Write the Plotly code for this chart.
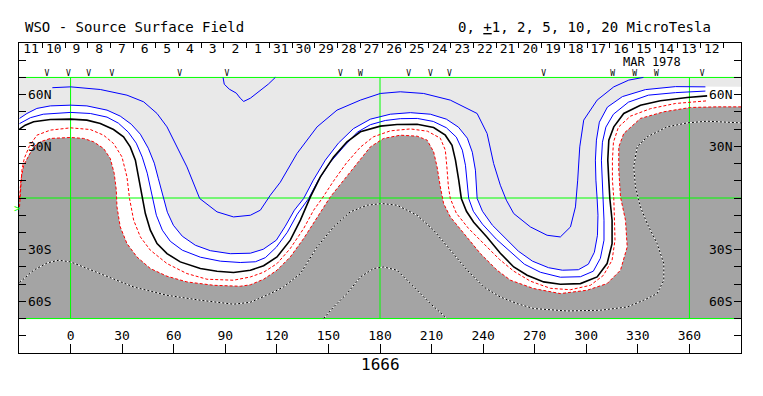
import plotly.graph_objects as go
import pandas as pd

# ---------------- axis definitions ----------------
X_RANGE = [-30, 390]            # Carrington longitude
S_RANGE = [-9 / 7, 9 / 7]       # sine latitude (box incl. header rows)
LON_TICKS = [0, 30, 60, 90, 120, 150, 180, 210, 240, 270, 300, 330, 360]
LAT_TICKS = [k / 7 for k in range(-8, 9)]
LAT_LABEL_POS = [6 / 7, 3 / 7, -3 / 7, -6 / 7]
LAT_LABELS = ["60N", "30N", "30S", "60S"]
ROTATION = "1666"
ROT_PERIOD_DAYS = 27.2753
T_LON360 = "1978-03-13 11:40"   # time when longitude 360 crossed central meridian

DAY_LABELS = [11, 10, 9, 8, 7, 6, 5, 4, 3, 2, 1, 31, 30, 29, 28, 27, 26, 25,
              24, 23, 22, 21, 20, 19, 18, 17, 16, 15, 14, 13, 12]
FIRST_DAY = "1978-04-11"

OBS_LON = [-13.7, -1.3, 10.5, 24.1, 63.4, 91.0, 156.9, 168.6, 196.7, 209.3,
           220.4, 275.2, 315.4, 328.2, 340.8, 367.4]
OBS_MARK = ["V", "V", "V", "V", "V", "V", "V", "W", "V", "V", "V", "V",
            "W", "W", "W", "V"]

# ---------------- contour lines (lon, sine latitude) ----------------
NEUTRAL = [(-29.7, 0.571), (-26.4, 0.604), (-21.5, 0.632), (-11.8, 0.651), (0.0, 0.654),
           (9.5, 0.646), (17.3, 0.618), (25.0, 0.568), (30.8, 0.507), (34.7, 0.424),
           (37.7, 0.314), (39.6, 0.175), (41.5, 0.037), (43.5, -0.129), (46.4, -0.267),
           (50.3, -0.378), (56.1, -0.461), (63.8, -0.530), (75.5, -0.585), (85.2, -0.607),
           (94.8, -0.618), (104.6, -0.599), (112.3, -0.562), (120.1, -0.489), (127.8, -0.350),
           (133.7, -0.184), (139.5, 0.009), (145.3, 0.175), (153.0, 0.341), (160.8, 0.466),
           (168.6, 0.549), (180.2, 0.596), (189.9, 0.610), (201.6, 0.612), (211.2, 0.585),
           (218.0, 0.521), (221.9, 0.438), (223.9, 0.314), (225.8, 0.148), (227.3, -0.004),
           (230.3, -0.110), (234.5, -0.201), (242.3, -0.325), (250.0, -0.458), (257.8, -0.572),
           (265.6, -0.641), (275.2, -0.696), (284.9, -0.715), (296.6, -0.710), (306.3, -0.655),
           (312.1, -0.544), (315.0, -0.378), (315.0, -0.184), (313.7, -0.004), (313.1, 0.148),
           (312.5, 0.314), (313.1, 0.480), (316.0, 0.590), (321.8, 0.701), (331.5, 0.770),
           (343.1, 0.806), (358.7, 0.834), (370.3, 0.847)]

POS1 = [(-29.7, 0.617), (-23.4, 0.666), (-15.9, 0.695), (0.0, 0.710), (11.5, 0.701),
        (21.2, 0.671), (27.8, 0.621), (33.6, 0.546), (38.2, 0.455), (41.7, 0.339),
        (44.6, 0.206), (46.4, 0.090), (47.9, -0.004), (49.9, -0.143), (53.4, -0.267),
        (58.0, -0.359), (65.0, -0.433), (75.5, -0.491), (87.1, -0.524), (98.7, -0.535),
        (107.5, -0.529), (113.3, -0.495), (119.7, -0.408), (126.1, -0.284), (131.9, -0.134),
        (138.5, -0.004), (144.1, 0.148), (151.1, 0.297), (158.7, 0.422), (166.8, 0.546),
        (174.4, 0.608), (183.1, 0.643), (191.8, 0.658), (201.7, 0.660), (211.0, 0.635),
        (218.6, 0.583), (224.4, 0.505), (227.9, 0.397), (229.7, 0.272), (230.8, 0.131),
        (231.6, -0.004), (234.3, -0.110), (239.6, -0.217), (247.7, -0.342), (255.9, -0.450),
        (264.0, -0.549), (273.3, -0.616), (284.9, -0.657), (296.6, -0.653), (304.1, -0.607),
        (308.2, -0.500), (310.3, -0.350), (310.3, -0.184), (309.7, -0.004), (309.1, 0.148),
        (308.8, 0.314), (309.4, 0.463), (311.4, 0.588), (315.8, 0.695), (324.5, 0.795),
        (336.1, 0.853), (351.9, 0.874), (369.3, 0.887)]

POS2 = [(-29.7, 0.660), (-25.4, 0.701), (-19.6, 0.743), (-11.8, 0.764), (0.0, 0.770),
        (9.5, 0.764), (21.2, 0.729), (28.9, 0.679), (35.3, 0.612), (40.6, 0.529),
        (45.2, 0.413), (48.7, 0.289), (51.0, 0.164), (52.8, 0.065), (54.1, -0.004),
        (56.3, -0.118), (59.8, -0.226), (65.0, -0.317), (72.6, -0.392), (81.3, -0.437),
        (92.9, -0.462), (104.6, -0.458), (112.1, -0.425), (119.7, -0.350), (124.9, -0.234),
        (130.2, -0.101), (135.6, -0.004), (141.2, 0.148), (148.2, 0.314), (155.8, 0.455),
        (164.5, 0.575), (174.4, 0.654), (186.0, 0.695), (197.7, 0.708), (209.3, 0.695),
        (218.6, 0.654), (225.6, 0.588), (230.8, 0.496), (233.7, 0.380), (235.5, 0.231),
        (236.5, -0.004), (239.6, -0.110), (245.4, -0.226), (252.9, -0.334), (260.5, -0.441),
        (268.7, -0.524), (278.0, -0.578), (286.1, -0.599), (295.4, -0.595), (301.2, -0.549),
        (304.7, -0.450), (306.5, -0.309), (306.8, -0.143), (306.3, -0.004), (305.6, 0.148),
        (305.3, 0.314), (305.9, 0.480), (307.6, 0.629), (312.3, 0.754), (321.0, 0.841),
        (334.4, 0.899), (351.9, 0.924), (369.3, 0.922)]

POS5 = [(-10.6, 0.915), (0.0, 0.922), (17.3, 0.900), (32.8, 0.853), (42.5, 0.798),
        (50.3, 0.701), (56.1, 0.590), (61.9, 0.424), (67.7, 0.258), (75.1, -0.004),
        (85.2, -0.115), (94.8, -0.157), (104.6, -0.143), (110.4, -0.101), (116.2, 0.023),
        (122.0, 0.131), (131.7, 0.369), (143.4, 0.590), (155.0, 0.729), (168.6, 0.812),
        (180.2, 0.867), (191.8, 0.881), (205.4, 0.867), (220.9, 0.812), (236.5, 0.701),
        (242.3, 0.535), (246.1, 0.286), (250.0, 0.106), (253.5, -0.018), (257.8, -0.129),
        (267.5, -0.240), (277.2, -0.309), (284.9, -0.323), (290.8, -0.240), (293.7, -0.074),
        (295.0, 0.148), (296.2, 0.424), (298.5, 0.646), (306.3, 0.812), (316.0, 0.922),
        (324.7, 0.978), (333.2, 1.000)]

POS10 = [(88.7, 1.000), (89.4, 0.944), (92.3, 0.903), (96.4, 0.870), (98.7, 0.828),
         (100.7, 0.801), (104.6, 0.828), (110.4, 0.890), (115.0, 0.944), (119.1, 1.000)]

NEG1 = [(-29.7, -0.074), (-29.0, 0.065), (-28.3, 0.231), (-26.9, 0.330), (-24.0, 0.430),
        (-19.6, 0.521), (-11.8, 0.563), (0.0, 0.582), (11.5, 0.568), (19.2, 0.521),
        (25.0, 0.452), (29.9, 0.341), (32.8, 0.175), (34.3, -0.004), (36.7, -0.184),
        (40.6, -0.323), (46.4, -0.433), (56.1, -0.544), (67.7, -0.627), (79.4, -0.674),
        (94.8, -0.682), (104.6, -0.655), (112.3, -0.616), (120.1, -0.544), (127.8, -0.419),
        (135.6, -0.253), (141.4, -0.101), (146.3, -0.004), (152.9, 0.139), (160.4, 0.289),
        (168.6, 0.422), (176.1, 0.507), (186.0, 0.557), (197.7, 0.573), (207.6, 0.554),
        (215.1, 0.496), (218.0, 0.397), (218.9, 0.258), (219.8, 0.092), (220.9, -0.004),
        (224.4, -0.126), (231.4, -0.251), (240.7, -0.383), (249.4, -0.508), (257.8, -0.607),
        (267.5, -0.690), (279.1, -0.749), (290.8, -0.761), (302.4, -0.724), (310.0, -0.641),
        (315.0, -0.516), (316.7, -0.350), (316.4, -0.184), (316.0, -0.004), (315.2, 0.148),
        (315.2, 0.314), (315.8, 0.463), (318.7, 0.588), (325.7, 0.679), (337.3, 0.741),
        (351.9, 0.784), (370.3, 0.806)]

NEG2 = [(-29.7, -0.004), (-28.9, 0.148), (-27.3, 0.272), (-24.4, 0.355), (-21.5, 0.424),
        (-17.6, 0.466), (-11.8, 0.494), (0.0, 0.502), (7.6, 0.494), (13.4, 0.466),
        (19.2, 0.411), (23.1, 0.328), (25.4, 0.203), (26.6, 0.065), (27.0, -0.074),
        (28.9, -0.240), (32.8, -0.378), (38.6, -0.489), (46.4, -0.585), (56.1, -0.649),
        (67.7, -0.696), (83.2, -0.724), (98.7, -0.732), (104.6, -0.720), (112.3, -0.674),
        (120.1, -0.599), (127.8, -0.489), (135.6, -0.336), (143.4, -0.157), (151.1, 0.009),
        (158.9, 0.148), (166.6, 0.286), (174.4, 0.424), (182.1, 0.494), (191.8, 0.521),
        (201.6, 0.513), (207.4, 0.480), (211.2, 0.383), (213.2, 0.258), (215.1, 0.092),
        (217.0, -0.046), (220.9, -0.157), (228.7, -0.295), (238.4, -0.461), (248.1, -0.599),
        (255.9, -0.682), (269.4, -0.751), (284.9, -0.793), (300.5, -0.765), (312.1, -0.710),
        (319.9, -0.599), (323.8, -0.406), (322.8, -0.184), (319.9, 0.009), (318.9, 0.231),
        (318.9, 0.424), (321.8, 0.535), (331.5, 0.660), (345.1, 0.715), (360.6, 0.751),
        (376.1, 0.756), (390.0, 0.756)]

NEG5 = [(-29.7, -0.701), (-21.5, -0.599), (-13.7, -0.539), (-7.0, -0.516), (0.0, -0.530),
        (9.5, -0.585), (21.2, -0.655), (36.7, -0.738), (56.1, -0.807), (75.5, -0.848),
        (94.8, -0.881), (104.6, -0.865), (116.2, -0.793), (123.9, -0.738), (133.7, -0.627),
        (143.4, -0.406), (153.0, -0.240), (162.7, -0.115), (172.5, -0.060), (181.2, -0.046),
        (189.9, -0.060), (201.6, -0.143), (211.2, -0.267), (220.9, -0.433), (230.7, -0.599),
        (240.3, -0.738), (250.0, -0.821), (259.7, -0.876), (269.4, -0.917), (288.8, -0.937),
        (308.2, -0.931), (323.8, -0.904), (333.4, -0.848), (341.2, -0.793), (345.1, -0.682),
        (345.1, -0.544), (341.2, -0.378), (335.4, -0.212), (331.5, -0.074), (328.6, 0.092),
        (327.6, 0.258), (329.6, 0.424), (335.4, 0.507), (347.0, 0.590), (358.7, 0.623),
        (370.3, 0.637), (381.9, 0.632), (390.0, 0.623)]

NEG10 = [(147.2, -1.000), (153.0, -0.904), (160.8, -0.793), (168.6, -0.655), (176.3, -0.585),
         (182.1, -0.572), (189.9, -0.599), (199.6, -0.738), (209.3, -0.876), (219.0, -1.000)]

# ---------------- colours / fonts ----------------
LIGHT = "rgb(233,233,233)"
DARK = "rgb(164,164,164)"
GREEN = "rgb(0,255,0)"
BLUE = "rgb(0,0,255)"
RED = "rgb(255,0,0)"
FONT = "DejaVu Sans Mono"


def xy(pts):
    return [p[0] for p in pts], [p[1] for p in pts]


fig = go.Figure()
x0, x1 = X_RANGE

# light-grey positive region
px, py = xy(POS2)
fig.add_trace(go.Scatter(x=[x0] + px + [x1, x1, x0], y=[py[0]] + py + [py[-1], 1, 1],
                         fill="toself", fillcolor=LIGHT, mode="lines",
                         line=dict(width=0), hoverinfo="skip"))
# dark-grey negative region
gx, gy = xy(NEG2)
fig.add_trace(go.Scatter(x=[x0] + gx + [x1, x0], y=[gy[0]] + gy + [-1, -1],
                         fill="toself", fillcolor=DARK, mode="lines",
                         line=dict(width=0), hoverinfo="skip"))

# green reference lines
gl_x = [x0, x1, None, x0, x1, None, x0, x1, None, 0, 0, None, 180, 180, None, 360, 360]
gl_y = [1, 1, None, 0, 0, None, -1, -1, None, -1, 1, None, -1, 1, None, -1, 1]
fig.add_trace(go.Scatter(x=gl_x, y=gl_y, mode="lines", line=dict(color=GREEN, width=1),
                         hoverinfo="skip"))

# contours
for pts in (POS10, POS5, POS2, POS1):
    cx, cy = xy(pts)
    fig.add_trace(go.Scatter(x=cx, y=cy, mode="lines", line=dict(color=BLUE, width=1)))
for pts in (NEG1, NEG2):
    cx, cy = xy(pts)
    fig.add_trace(go.Scatter(x=cx, y=cy, mode="lines",
                             line=dict(color=RED, width=1, dash="3px,2px")))
for pts in (NEG5, NEG10):
    cx, cy = xy(pts)
    fig.add_trace(go.Scatter(x=cx, y=cy, mode="lines", line=dict(color="white", width=1)))
    fig.add_trace(go.Scatter(x=cx, y=cy, mode="lines",
                             line=dict(color="black", width=1, dash="2px,2px")))
nx, ny = xy(NEUTRAL)
fig.add_trace(go.Scatter(x=nx, y=ny, mode="lines", line=dict(color="black", width=1.6)))

# longitude labels
fig.add_trace(go.Scatter(x=LON_TICKS, y=[-1.155] * len(LON_TICKS), mode="text",
                         text=[str(v) for v in LON_TICKS], textposition="middle center",
                         textfont=dict(family=FONT, size=13, color="black")))
# observation markers
fig.add_trace(go.Scatter(x=OBS_LON, y=[1.028] * len(OBS_LON), mode="text", text=OBS_MARK,
                         textposition="middle center",
                         textfont=dict(family=FONT, size=8, color="black")))

# day numbers on the time axis (top)
t360 = pd.Timestamp(T_LON360)
day = pd.Timedelta(days=1)
t_left = t360 + (360 - X_RANGE[0]) / 360 * ROT_PERIOD_DAYS * day
t_right = t360 - (X_RANGE[1] - 360) / 360 * ROT_PERIOD_DAYS * day
first = pd.Timestamp(FIRST_DAY) + pd.Timedelta(hours=12)
day_x = [(first - i * day).strftime("%Y-%m-%d %H:%M") for i in range(len(DAY_LABELS))]
fig.add_trace(go.Scatter(x=day_x, y=[1.227] * len(DAY_LABELS), xaxis="x2", mode="text",
                         text=[str(d) for d in DAY_LABELS], textposition="middle center",
                         textfont=dict(family=FONT, size=13, color="black")))

ann = []
for pos, lab in zip(LAT_LABEL_POS, LAT_LABELS):
    ann.append(dict(x=-25.8, y=pos, xref="x", yref="y", text=lab, showarrow=False,
                    xanchor="left", yanchor="middle", font=dict(family=FONT, size=13, color="black")))
    ann.append(dict(x=386.2, y=pos, xref="x", yref="y", text=lab, showarrow=False,
                    xanchor="right", yanchor="middle", font=dict(family=FONT, size=13, color="black")))
ann += [
    dict(x=0.0055, y=1.0516, xref="paper", yref="paper", text="WSO - Source Surface Field",
         showarrow=False, xanchor="left", yanchor="middle", font=dict(family=FONT, size=14, color="black")),
    dict(x=0.6048, y=1.0516, xref="paper", yref="paper",
         text="0, <u>+</u>1, 2, 5, 10, 20 MicroTesla",
         showarrow=False, xanchor="left", yanchor="middle", font=dict(family=FONT, size=14, color="black")),
    dict(x=0.8774, y=0.940, xref="paper", yref="paper", text="MAR 1978", showarrow=False,
         xanchor="center", yanchor="middle", borderpad=0,
         font=dict(family=FONT, size=12, color="black")),
    dict(x=0.5, y=-0.0387, xref="paper", yref="paper", text=ROTATION, showarrow=False,
         xanchor="center", yanchor="middle", font=dict(family=FONT, size=16, color="black")),
    dict(x=-0.0032, y=-0.087, xref="paper", yref="y", text=">", showarrow=False,
         xanchor="center", yanchor="middle", font=dict(family=FONT, size=10, color=GREEN)),
]

# the page body adds an 8px offset; size the figure so the plot box lands at 19..741 x 43..353
fig.update_layout(
    width=755, height=388, margin=dict(l=11, r=22, t=35, b=43, pad=0),
    paper_bgcolor="white", plot_bgcolor="white", showlegend=False, hovermode=False,
    annotations=ann,
    xaxis=dict(range=X_RANGE, tickvals=LON_TICKS, ticks="inside", ticklen=9, tickwidth=1,
               tickcolor="black", showticklabels=False, showline=True, linecolor="black",
               linewidth=1, mirror=True, showgrid=False, zeroline=False),
    xaxis2=dict(type="date", overlaying="x", side="top", anchor="y",
                range=[t_left.strftime("%Y-%m-%d %H:%M:%S"), t_right.strftime("%Y-%m-%d %H:%M:%S")],
                tickmode="linear", tick0="1978-03-01", dtick=86400000, ticks="inside",
                ticklen=5, tickwidth=1, tickcolor="black", showticklabels=False,
                showgrid=False, zeroline=False, showline=False),
    yaxis=dict(range=S_RANGE, tickvals=LAT_TICKS, ticks="inside", ticklen=7, tickwidth=1,
               tickcolor="black", showticklabels=False, showline=True, linecolor="black",
               linewidth=1, mirror="ticks", showgrid=False, zeroline=False),
)

fig.write_html("out.html")
